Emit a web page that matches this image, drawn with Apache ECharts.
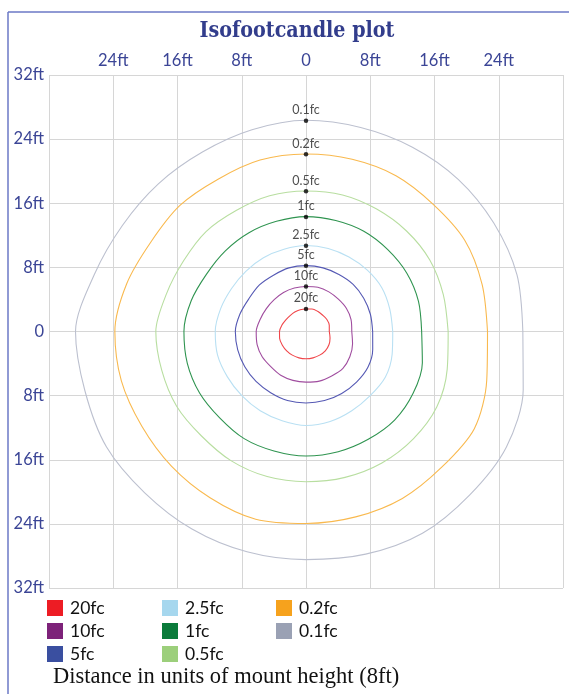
<!DOCTYPE html>
<html>
<head>
<meta charset="utf-8">
<script src="https://cdn.jsdelivr.net/npm/echarts@6/dist/echarts.min.js"></script>
<style>
html,body{margin:0;padding:0;background:#fff;}
#c{width:569px;height:694px;}
</style>
</head>
<body>
<div id="c"></div>
<script>
// Angles (degrees, counter-clockwise from +x) at which contour radii (ft) are read
const angles = [0,15,30,45,60,75,90,105,120,135,150,165,180,195,210,225,240,255,270,285,300,315,330,345];
const r20fc  = [2.9,3.0,3.0,2.9,2.9,2.9,2.8,2.8,2.8,2.8,2.9,3.1,3.3,3.4,3.4,3.4,3.4,3.4,3.4,3.4,3.4,3.4,3.3,3.1];
const r10fc  = [5.7,5.8,5.8,5.7,5.7,5.7,5.6,5.6,5.6,5.6,5.7,5.9,6.2,6.3,6.3,6.2,6.3,6.3,6.3,6.4,6.4,6.5,6.3,6.0];
const r5fc   = [8.3,8.3,8.3,8.3,8.2,8.2,8.2,8.2,8.1,8.2,8.2,8.5,8.8,8.8,8.8,8.8,8.8,8.9,8.9,8.9,8.9,8.9,8.9,8.6];
const r2_5fc = [10.8,10.8,10.9,10.8,10.7,10.7,10.7,10.6,10.6,10.6,10.7,11.0,11.3,11.4,11.3,11.3,11.4,11.5,11.7,11.6,11.4,11.3,11.4,11.1];
const r1fc   = [14.4,14.5,14.5,14.4,14.4,14.3,14.3,14.2,14.2,14.2,14.3,14.8,15.2,15.3,15.3,15.2,15.4,15.4,15.5,15.5,15.5,15.6,15.4,15.0];
const r0_5fc = [17.7,17.7,17.8,17.7,17.6,17.6,17.5,17.5,17.4,17.6,17.6,18.0,18.7,18.6,18.6,18.4,18.6,18.7,18.7,18.8,18.9,18.9,18.8,18.2];
const r0_2fc = [22.6,22.7,22.8,22.4,22.4,22.2,22.1,22.1,21.9,22.2,22.3,23.1,23.8,23.8,23.6,23.7,23.9,24.2,23.9,23.9,24.0,23.9,24.2,23.3];
const r0_1fc = [27.0,27.2,27.0,26.8,26.5,26.3,26.3,26.0,25.8,26.0,26.4,27.3,28.7,28.5,28.7,28.4,28.4,28.4,28.4,28.7,29.0,28.8,28.8,28.0];

const levelNames = ['20fc','10fc','5fc','2.5fc','1fc','0.5fc','0.2fc','0.1fc'];
const levelRadii = [r20fc, r10fc, r5fc, r2_5fc, r1fc, r0_5fc, r0_2fc, r0_1fc];
const legendColors = ['#ed1c24','#7d2279','#3a4fa0','#a6d7ee','#0b7b3b','#9ccf7b','#f6a21d','#9aa1b4'];
const lineColors   = ['#f0464a','#a04d9f','#5559b4','#b9e0f3','#2f9450','#b8dea0','#f9b94e','#bcc0cf'];

const titleText = 'Isofootcandle plot';
const footText = 'Distance in units of mount height (8ft)';

const labelColor = '#3b4596';
function ftLabel(v){ return v === 0 ? '0' : Math.abs(v) + 'ft'; }

const contourSeries = levelNames.map((n, i) => ({
  name: n,
  type: 'line',
  coordinateSystem: 'polar',
  polarIndex: 0,
  showSymbol: false,
  smooth: 0.3,
  silent: true,
  itemStyle: { color: legendColors[i] },
  lineStyle: { color: lineColors[i], width: 1.1 },
  data: angles.map((a, k) => [levelRadii[i][k], a]).concat([[levelRadii[i][0], 360]])
}));

// Marker dot at the top (90 deg) of each contour
const idx90 = angles.indexOf(90);
const dotSeries = {
  name: 'markers',
  type: 'scatter',
  xAxisIndex: 0, yAxisIndex: 0,
  symbolSize: 4.5,
  itemStyle: { color: '#000' },
  silent: true,
  z: 5,
  label: {
    show: true, position: 'top', distance: 2,
    formatter: p => p.name,
    fontFamily: 'Lato', fontSize: 12.5, color: '#222'
  },
  data: levelNames.map((n, i) => ({ name: n, value: [0, levelRadii[i][idx90]] }))
};

const chart = echarts.init(document.getElementById('c'), null, { renderer: 'canvas' });
chart.setOption({
  backgroundColor: '#fff',
  animation: false,
  grid: { left: 49, top: 75, width: 514, height: 513 },
  xAxis: {
    type: 'value', position: 'top', min: -32, max: 32, interval: 8,
    axisLine: { show: false }, axisTick: { show: false },
    splitLine: { show: true, lineStyle: { color: '#d6d6d6', width: 1 } },
    axisLabel: {
      margin: 6, color: labelColor, fontFamily: 'Lato', fontSize: 16.5,
      formatter: v => Math.abs(v) === 32 ? '' : ftLabel(v)
    }
  },
  yAxis: {
    type: 'value', min: -32, max: 32, interval: 8,
    axisLine: { show: false }, axisTick: { show: false },
    splitLine: { show: true, lineStyle: { color: '#d6d6d6', width: 1 } },
    axisLabel: { margin: 5, color: labelColor, fontFamily: 'Lato', fontSize: 16.5, formatter: ftLabel }
  },
  polar: { center: [306, 331.5], radius: 257 },
  angleAxis: {
    type: 'value', min: 0, max: 360, startAngle: 0, clockwise: false,
    axisLine: { show: false }, axisTick: { show: false }, axisLabel: { show: false }, splitLine: { show: false }
  },
  radiusAxis: {
    type: 'value', min: 0, max: 32,
    axisLine: { show: false }, axisTick: { show: false }, axisLabel: { show: false }, splitLine: { show: false }
  },
  legend: [0, 1, 2].map(col => ({
    data: levelNames.slice(col * 3, col * 3 + 3),
    orient: 'vertical',
    left: [47, 162, 276][col], top: 599,
    itemWidth: 16, itemHeight: 16, itemGap: 5,
    icon: 'rect', selectedMode: false,
    textStyle: { fontFamily: 'Lato', fontSize: 17.5, color: '#111', padding: [0, 0, 0, 2] },
    padding: 0
  })),
  graphic: [
    { type: 'line', shape: { x1: 8, y1: 12, x2: 569, y2: 12 }, style: { stroke: '#6b78c6', lineWidth: 1.5 } },
    { type: 'line', shape: { x1: 8, y1: 12, x2: 8, y2: 694 }, style: { stroke: '#6b78c6', lineWidth: 1.5 } },
    { type: 'text', x: 297, y: 31, scaleX: 0.87,
      style: { text: titleText, font: 'bold 22px "DejaVu Serif"', fill: '#323d8c', textAlign: 'center', textVerticalAlign: 'middle' } },
    { type: 'text', x: 53, y: 677,
      style: { text: footText, font: '22.5px "Liberation Serif"', fill: '#111', textAlign: 'left', textVerticalAlign: 'middle' } }
  ],
  series: contourSeries.concat([dotSeries])
});
</script>
</body>
</html>
